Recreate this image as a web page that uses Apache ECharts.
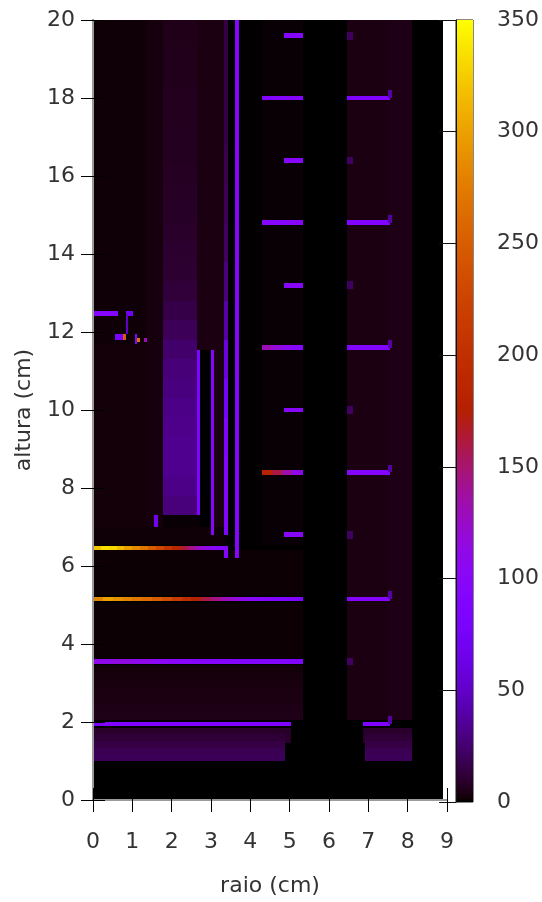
<!DOCTYPE html>
<html>
<head>
<meta charset="utf-8">
<script src="https://cdn.jsdelivr.net/npm/echarts@6/dist/echarts.min.js"></script>
<style>
  html, body { margin: 0; background: #fff; }
  #grafico { width: 542px; height: 902px; }
</style>
</head>
<body>
<div id="grafico"></div>
<script>
// blocos de fundo: [r0, r1, z0, z1, valor]
var blocos = [
  [0, 8.9, 0, 20, 0],
  [0, 5.34, 6.55, 20, 0.8],
  [0, 1.37, 11.7, 20, 1.5],
  [0, 1.37, 6.55, 11.7, 2],
  [1.37, 1.78, 7.0, 20, 2.8],
  [2.64, 3.33, 11.55, 20, 4],
  [2.72, 3.0, 6.8, 11.55, 0],
  [3.08, 3.33, 6.8, 11.55, 3.5],
  [0, 3.33, 6.55, 7.0, 1.5],
  [3.43, 3.61, 6.2, 20, 0],
  [3.71, 4.3, 6.55, 20, 0.2],
  [0, 5.34, 5.25, 6.4, 1.2],
  [0, 5.34, 3.65, 5.05, 1.2],
  [6.46, 7.5, 2.05, 20, 3.5],
  [7.5, 8.11, 2.05, 20, 4.5],
  [4.88, 5.03, 1.47, 1.85, 9],
  [6.86, 6.92, 1.47, 1.85, 9]
];

// perfil em z (passo 0.5 a partir de z=7.3) da coluna roxa r 1.78–2.64
var colunaRoxa = [28, 31, 33, 33, 32, 31, 29, 27, 24, 20, 16, 13, 11, 10, 9, 8.5, 8, 7.5, 7, 7, 6.5, 6.5, 6, 6, 5.5, 5.5];
// faixa entre z 2.05 e 3.45 (passo 0.2)
var faixaMarrom = [5, 4.5, 4, 3.5, 3, 2.5, 2];
// base roxa entre z 1.0 e 1.85 (passo 0.17)
var baseRoxa = [20, 18, 15, 12, 9];
// linha vertical r 3.33–3.43, de z 6.8 para cima (passo 1)
var linhaVert333 = [90, 90, 85, 75, 60, 40, 28, 22, 19, 17, 16, 15, 15, 15];

// perfis das linhas horizontais (valores ao longo de r)
var linha646 = [320, 335, 330, 315, 300, 285, 270, 250, 230, 205, 185, 165, 145, 125, 110, 100, 95, 95];
var linha515 = [280, 300, 290, 280, 270, 262, 250, 235, 215, 195, 175, 160, 145, 130, 118, 108, 100, 95, 92, 90, 90, 90];
var linha355 = [110, 115, 110, 105, 100, 97, 95, 93, 92, 92, 90];
var linha116 = [130, 118, 105, 96, 92];
var linha84 = [180, 160, 135, 112, 98];

// traços uniformes: [r0, r1, z, valor]
var tracos = [
  [4.30, 5.34, 18.0, 92], [6.46, 7.55, 18.0, 85],
  [4.86, 5.34, 19.6, 95],
  [4.30, 5.34, 14.8, 95], [6.46, 7.55, 14.8, 88],
  [4.86, 5.34, 16.4, 98],
  [4.86, 5.34, 13.2, 98],
  [6.46, 7.55, 11.6, 90],
  [4.86, 5.34, 10.0, 100],
  [6.46, 7.55, 8.4, 92],
  [4.86, 5.34, 6.8, 100],
  [6.46, 7.55, 5.15, 92],
  [0, 5.03, 1.95, 85],
  [6.86, 7.55, 1.95, 85],
  [0, 0.64, 12.48, 95], [0.84, 1.02, 12.48, 70]
];

// barras verticais e pontos: [r0, r1, z0, z1, valor]
var barras = [
  [3.61, 3.71, 6.2, 20, 95],
  [2.64, 2.72, 7.3, 11.55, 85],
  [3.0, 3.08, 6.8, 11.55, 95],
  [3.33, 3.43, 6.2, 6.52, 95],
  [1.55, 1.65, 7.0, 7.3, 70],
  [0.84, 0.9, 11.94, 12.48, 50],
  [1.07, 1.12, 11.7, 11.95, 90]
];
var pontos = [
  [0.56, 0.84, 11.8, 11.95, 80],
  [0.75, 0.84, 11.8, 11.95, 250],
  [1.12, 1.2, 11.75, 11.85, 270],
  [1.3, 1.37, 11.75, 11.85, 130]
];
// marcas pequenas nas pontas dos traços
var alturasCurtas = [19.6, 16.4, 13.2, 10.0, 6.8, 3.55];
var alturasLongas = [18.0, 14.8, 11.6, 8.4, 5.15, 1.95];

var ESP = 0.12;

function montarCelulas() {
  var c = [];
  blocos.forEach(function (b) { c.push(b); });

  function faixaZ(r0, r1, z0, passo, zFim, vals) {
    vals.forEach(function (v, i) {
      var a = z0 + i * passo;
      if (a >= zFim - 1e-6) return;
      c.push([r0, r1, a, Math.min(zFim, a + passo), v]);
    });
  }
  function faixaR(z, r0, passo, rFim, vals) {
    vals.forEach(function (v, i) {
      var a = r0 + i * passo;
      if (a >= rFim - 1e-6) return;
      c.push([a, Math.min(rFim, a + passo), z - ESP / 2, z + ESP / 2, v]);
    });
  }

  faixaZ(1.78, 2.64, 7.3, 0.5, 20, colunaRoxa);
  faixaZ(0, 5.34, 2.05, 0.2, 3.45, faixaMarrom);
  faixaZ(0, 4.88, 1.0, 0.17, 1.85, baseRoxa);
  faixaZ(6.92, 8.11, 1.0, 0.17, 1.85, baseRoxa);

  tracos.forEach(function (t) {
    c.push([t[0], t[1], t[2] - ESP / 2, t[2] + ESP / 2, t[3]]);
  });
  faixaR(6.46, 0, 0.2, 3.43, linha646);
  faixaR(5.15, 0, 0.25, 5.34, linha515);
  faixaR(3.55, 0, 0.5, 5.34, linha355);
  faixaR(11.6, 4.3, 0.25, 5.34, linha116);
  faixaR(8.4, 4.3, 0.25, 5.34, linha84);

  faixaZ(3.33, 3.43, 6.8, 1, 20, linhaVert333);
  barras.forEach(function (b) { c.push(b); });
  pontos.forEach(function (b) { c.push(b); });

  alturasCurtas.forEach(function (z) {
    c.push([6.46, 6.6, z - 0.1, z + 0.1, 22]);
  });
  alturasLongas.forEach(function (z) {
    c.push([7.5, 7.6, z, z + 0.2, 40]);
  });
  return c;
}

// paleta do gnuplot (rgbformulae 7,5,15)
function paleta(n) {
  var cores = [];
  for (var i = 0; i <= n; i++) {
    var t = i / n;
    var r = Math.sqrt(t), g = t * t * t, b = Math.max(0, Math.sin(2 * Math.PI * t));
    cores.push('rgb(' + Math.round(r * 255) + ',' + Math.round(g * 255) + ',' + Math.round(b * 255) + ')');
  }
  return cores;
}
var cores = paleta(200);

var myChart = echarts.init(document.getElementById('grafico'));

var fonte = 'DejaVu Sans';
var corTexto = '#333';
var tamanho = 22;

option = {
  animation: false,
  grid: [
    { left: 93, top: 20, width: 354, height: 782, show: true, backgroundColor: '#fff', borderWidth: 0 },
    { left: 456, top: 20, width: 17, height: 782, show: true, borderColor: '#111', borderWidth: 1 }
  ],
  xAxis: [
    {
      gridIndex: 0, type: 'value', min: 0, max: 9, interval: 1, position: 'bottom', z: 5,
      name: 'raio (cm)', nameLocation: 'middle', nameGap: 75,
      nameTextStyle: { fontFamily: fonte, fontSize: tamanho, color: corTexto },
      axisLine: { lineStyle: { color: '#9a9a9a', width: 2 } },
      axisTick: { inside: true, length: 12, lineStyle: { color: '#000' } },
      axisLabel: { fontFamily: fonte, fontSize: tamanho, color: corTexto, margin: 31 },
      splitLine: { show: false }
    },
    {
      gridIndex: 0, type: 'value', min: 0, max: 9, interval: 1, position: 'top', z: 5,
      axisLine: { lineStyle: { color: '#9a9a9a', width: 2 } },
      axisTick: { inside: true, length: 12, lineStyle: { color: '#000' } },
      axisLabel: { show: false },
      splitLine: { show: false }
    },
    { gridIndex: 1, type: 'value', min: 0, max: 1, show: false }
  ],
  yAxis: [
    {
      gridIndex: 0, type: 'value', min: 0, max: 20, interval: 2, position: 'left', z: 5,
      name: 'altura (cm)', nameLocation: 'middle', nameGap: 58,
      nameTextStyle: { fontFamily: fonte, fontSize: tamanho, color: corTexto },
      axisLine: { lineStyle: { color: '#9a9a9a', width: 2 } },
      axisTick: { inside: true, length: 12, lineStyle: { color: '#000' } },
      axisLabel: { fontFamily: fonte, fontSize: tamanho, color: corTexto, margin: 18 },
      splitLine: { show: false }
    },
    {
      gridIndex: 0, type: 'value', min: 0, max: 20, interval: 2, position: 'right', z: 5,
      axisLine: { lineStyle: { color: '#9a9a9a', width: 2 } },
      axisTick: { inside: true, length: 12, lineStyle: { color: '#000' } },
      axisLabel: { show: false },
      splitLine: { show: false }
    },
    {
      gridIndex: 1, type: 'value', min: 0, max: 350, interval: 50, position: 'right', z: 5,
      axisLine: { show: true, lineStyle: { color: '#111', width: 1 } },
      axisTick: { inside: true, length: 17, lineStyle: { color: '#111' } },
      axisLabel: { fontFamily: fonte, fontSize: tamanho, color: corTexto, margin: 24 },
      splitLine: { show: false }
    }
  ],
  visualMap: {
    type: 'continuous',
    show: false,
    min: 0,
    max: 350,
    dimension: 4,
    seriesIndex: 0,
    inRange: { color: cores }
  },
  series: [
    {
      type: 'custom',
      xAxisIndex: 0,
      yAxisIndex: 0,
      data: montarCelulas(),
      renderItem: function (params, api) {
        var p0 = api.coord([api.value(0), api.value(3)]);
        var p1 = api.coord([api.value(1), api.value(2)]);
        var x0 = Math.round(p0[0]), y0 = Math.round(p0[1]);
        var x1 = Math.round(p1[0]), y1 = Math.round(p1[1]);
        return {
          type: 'rect',
          shape: { x: x0, y: y0, width: x1 - x0, height: y1 - y0 },
          style: { fill: api.visual('color') }
        };
      }
    },
    {
      type: 'custom',
      xAxisIndex: 2,
      yAxisIndex: 2,
      data: [[0, 350]],
      renderItem: function (params, api) {
        var p0 = api.coord([0, api.value(1)]);
        var p1 = api.coord([1, api.value(0)]);
        var stops = cores.map(function (c, i) {
          return { offset: i / (cores.length - 1), color: c };
        });
        return {
          type: 'rect',
          shape: { x: p0[0], y: p0[1], width: p1[0] - p0[0], height: p1[1] - p0[1] },
          style: { fill: new echarts.graphic.LinearGradient(0, 1, 0, 0, stops) }
        };
      }
    }
  ]
};

myChart.setOption(option);
window.addEventListener("resize", function () {
  myChart.resize();
});
</script>
</body>
</html>
